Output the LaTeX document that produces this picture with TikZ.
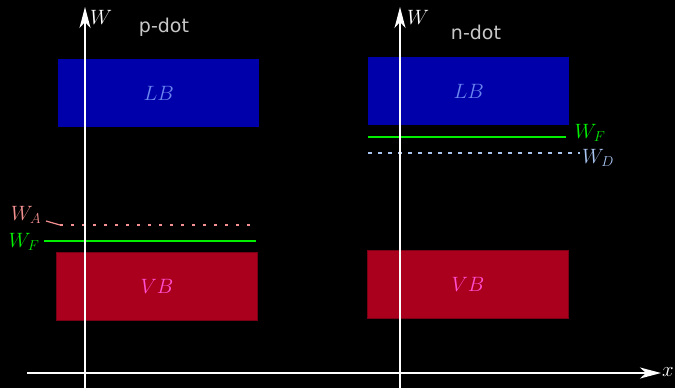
\documentclass[tikz,border=0pt]{standalone}
\usepackage{fontspec}
\newfontfamily\dotfont{DejaVu Sans}
\usetikzlibrary{arrows.meta}
\definecolor{bandblue}{HTML}{0000AA}
\definecolor{bandred}{HTML}{AA001E}
\definecolor{bandredline}{HTML}{7A0016}
\definecolor{lbtext}{HTML}{6A86EE}
\definecolor{vbtext}{HTML}{FF4FD0}
\definecolor{fermigreen}{HTML}{00F000}
\definecolor{accpink}{HTML}{F59090}
\definecolor{donblue}{HTML}{A8C4F0}
\definecolor{dotgray}{HTML}{C8C8C8}
\tikzset{
  axis/.style={white,line width=1.6pt,-{Stealth[length=21pt,width=11pt,inset=6pt]}},
  band/.style={minimum width=201pt,minimum height=68pt,inner sep=0pt,anchor=north west},
  lbband/.style={band,fill=bandblue,text=lbtext},
  vbband/.style={band,fill=bandred,draw=bandredline,line width=1pt,text=vbtext},
  lbl/.style={font=\fontsize{21}{25}\selectfont,inner sep=0pt},
  fermi/.style={fermigreen,line width=1.6pt},
  acceptor/.style={accpink,line width=1.6pt,dash pattern=on 3pt off 8pt},
  donor/.style={donblue,line width=1.6pt,dash pattern=on 4pt off 6pt},
  dotname/.style={dotgray,font=\dotfont\fontsize{19}{22}\selectfont,inner sep=0pt}
}
\begin{document}
\begin{tikzpicture}[x=1pt,y=-1pt]
  \fill[black] (0,0) rectangle (675,388);
  \useasboundingbox (0,0) rectangle (675,388);
  % bands
  \node[lbband,lbl] (lbp) at (58,59) {$LB$};
  \node[vbband,lbl] (vbp) at (56,252) {$VB$};
  \node[lbband,lbl] (lbn) at (368,57) {$LB$};
  \node[vbband,lbl] (vbn) at (367,250) {$VB$};
  % p-dot levels
  \coordinate (wfp0) at (44,241);
  \coordinate (wfp1) at (256,241);
  \draw[fermi] (wfp0) -- (wfp1);
  \node[lbl,fermigreen] (wfpl) at (24,242) {$W_F$};
  \coordinate (wap0) at (60,225);
  \coordinate (wap1) at (256,225);
  \draw[acceptor] (wap0) -- (wap1);
  \node[lbl,accpink] (wapl) at (26,215) {$W_A$};
  \draw[accpink,line width=1.2pt] (46,221) -- (wap0);
  % n-dot levels
  \coordinate (wfn0) at (368,137);
  \coordinate (wfn1) at (566,137);
  \draw[fermi] (wfn0) -- (wfn1);
  \node[lbl,fermigreen] (wfnl) at (590,133) {$W_F$};
  \coordinate (wdn0) at (368,153);
  \coordinate (wdn1) at (580,153);
  \draw[donor] (wdn0) -- (wdn1);
  \node[lbl,donblue] (wdnl) at (598,158) {$W_D$};
  % axes
  \coordinate (pbot) at (85,388);
  \coordinate (ptop) at (85,7);
  \draw[axis] (pbot) -- (ptop);
  \node[lbl,white] (wp) at (101,17) {$W$};
  \coordinate (nbot) at (400,388);
  \coordinate (ntop) at (400,7);
  \draw[axis] (nbot) -- (ntop);
  \node[lbl,white] (wn) at (418,17) {$W$};
  \coordinate (xl) at (27,373);
  \coordinate (xr) at (661,373);
  \draw[axis] (xl) -- (xr);
  \node[lbl,white] (xlab) at (668,372) {$x$};
  % titles
  \node[dotname] (pdot) at (164,27) {p-dot};
  \node[dotname] (ndot) at (476,32) {n-dot};
\end{tikzpicture}
\end{document}
